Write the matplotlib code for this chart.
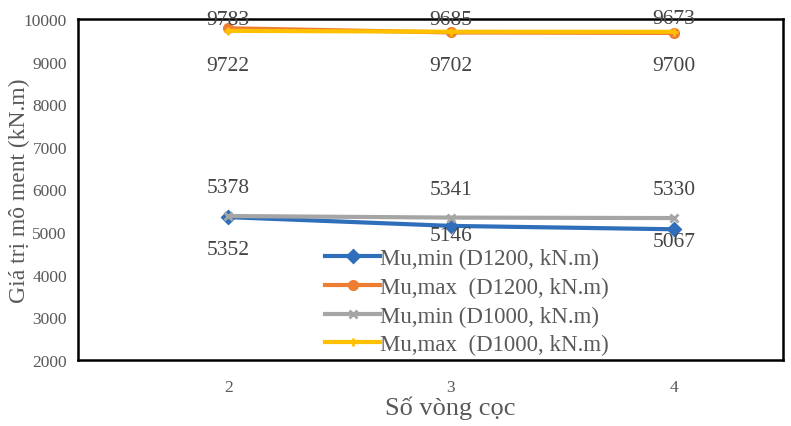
import matplotlib.pyplot as plt

plt.rcParams['font.family'] = ['Liberation Serif', 'DejaVu Serif']

# số vòng cọc và giá trị mô men
so_vong = [2, 3, 4]
mu_min_d1200 = [5352, 5146, 5067]
mu_max_d1200 = [9783, 9685, 9673]
mu_min_d1000 = [5378, 5341, 5330]
mu_max_d1000 = [9722, 9702, 9700]

series = [
    ('Mu,min (D1200, kN.m)', mu_min_d1200, '#2F6EBA', 'D', [-32, -10, -12]),
    ('Mu,max  (D1200, kN.m)', mu_max_d1200, '#ED7D31', 'o', [9, 13, 14]),
    ('Mu,min (D1000, kN.m)', mu_min_d1000, '#A5A5A5', 'x', [29, 28, 29]),
    ('Mu,max  (D1000, kN.m)', mu_max_d1000, '#FFC000', '+', [-35, -34, -34]),
]

fig = plt.figure(figsize=(7.91, 4.27), dpi=100)
ax = fig.add_axes([78 / 791, 1 - 361 / 427, 705 / 791, 341 / 427])

for name, vals, color, mk, offs in series:
    ax.plot(so_vong, vals, color=color, lw=3, marker=mk, ms=6, mew=2,
            label=name)
    for x, v, dy in zip(so_vong, vals, offs):
        ax.annotate(str(v), (x, v), xytext=(0, dy), textcoords='offset pixels',
                    ha='center', va='center', fontsize=15.5, color='#454545')

ax.set_xlim(1.326, 4.49)
ax.set_ylim(2000, 10000)
ax.set_xticks(so_vong)
ax.set_yticks(range(2000, 10001, 1000))
ax.tick_params(length=0, labelsize=12.5, labelcolor='#595959', pad=8)
ax.tick_params(axis='x', pad=14)
for s in ax.spines.values():
    s.set_color('black')
    s.set_linewidth(1.8)

ax.set_ylabel('Giá trị mô ment (kN.m)', fontsize=17, color='#595959')
ax.yaxis.set_label_coords(-0.068, 0.5)
ax.set_xlabel('Số vòng cọc', fontsize=19, color='#595959')
ax.xaxis.set_label_coords((450 - 78) / 705, -0.105)

leg = ax.legend(loc='upper left', bbox_to_anchor=(238 / 705, 121 / 341),
                frameon=False, fontsize=16.5, handlelength=2.4, handletextpad=0.0,
                labelspacing=0.33, borderaxespad=0, labelcolor='#595959')

fig.savefig('out.png', dpi=100)
